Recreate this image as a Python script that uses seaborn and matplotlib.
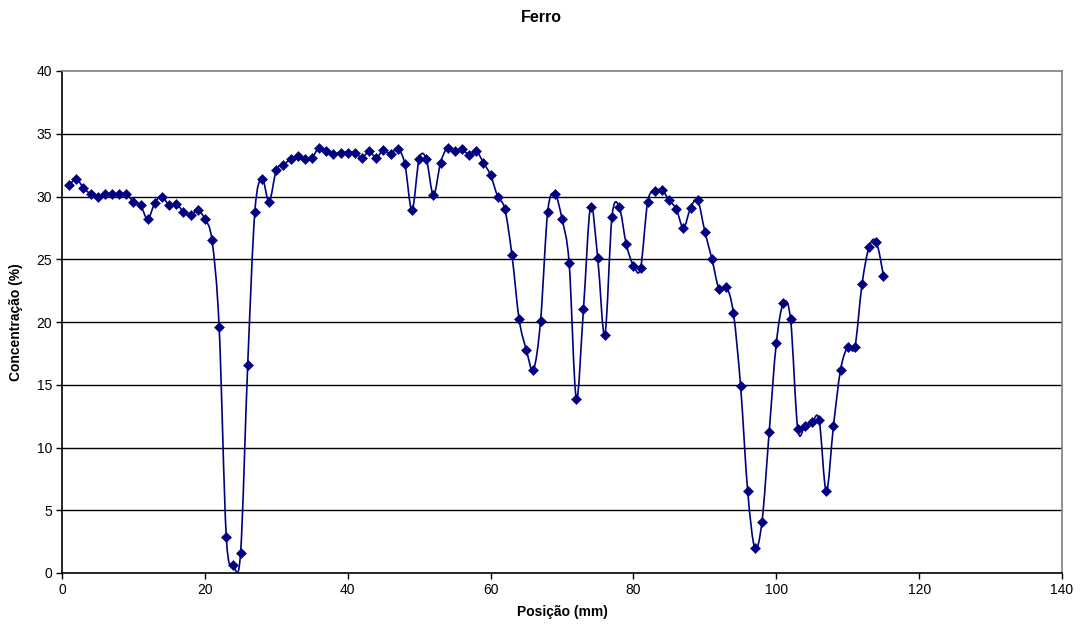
import numpy as np
import pandas as pd
import matplotlib
matplotlib.use("Agg")
import matplotlib.pyplot as plt
from matplotlib.path import Path
from matplotlib.patches import PathPatch
import seaborn as sns

# ---- data ----
posicao = list(range(1, 116))
concentracao = [
    30.9, 31.4, 30.7, 30.2, 30.0, 30.2, 30.2, 30.2, 30.2, 29.6,
    29.3, 28.2, 29.5, 30.0, 29.3, 29.4, 28.8, 28.5, 28.9, 28.2,
    26.5, 19.6, 2.9, 0.6, 1.6, 16.6, 28.8, 31.4, 29.6, 32.1,
    32.5, 33.0, 33.2, 33.0, 33.1, 33.9, 33.6, 33.4, 33.5, 33.5,
    33.5, 33.1, 33.6, 33.1, 33.7, 33.4, 33.8, 32.6, 28.9, 33.0,
    33.0, 30.1, 32.7, 33.9, 33.6, 33.8, 33.3, 33.6, 32.7, 31.7,
    30.0, 29.0, 25.3, 20.2, 17.8, 16.2, 20.1, 28.8, 30.2, 28.2,
    24.7, 13.9, 21.0, 29.2, 25.1, 19.0, 28.4, 29.2, 26.2, 24.5,
    24.3, 29.6, 30.4, 30.5, 29.7, 29.0, 27.5, 29.1, 29.7, 27.2,
    25.0, 22.6, 22.8, 20.7, 14.9, 6.5, 2.0, 4.1, 11.2, 18.3,
    21.5, 20.2, 11.5, 11.7, 12.0, 12.2, 6.5, 11.7, 16.2, 18.0,
    18.0, 23.0, 26.0, 26.4, 23.7,
]
x_ticks = [0, 20, 40, 60, 80, 100, 120, 140]
y_ticks = [0, 5, 10, 15, 20, 25, 30, 35, 40]
title = "Ferro"
x_label = "Posição (mm)"
y_label = "Concentração (%)"

df = pd.DataFrame({"pos": posicao, "conc": concentracao})

sns.set_theme(style="white")
plt.rcParams["font.family"] = ["Liberation Sans", "DejaVu Sans"]
plt.rcParams["text.color"] = "black"
plt.rcParams["axes.labelcolor"] = "black"
plt.rcParams["xtick.color"] = "black"
plt.rcParams["ytick.color"] = "black"

fig = plt.figure(figsize=(10.83, 6.35), dpi=100)
ax = fig.add_axes([62 / 1083, 62 / 635, 1000 / 1083, 502 / 635])

color = "#000080"

# smooth (Catmull-Rom as cubic Bezier) line, like Excel's smoothed line
xs = np.array(posicao, dtype=float)
ys = np.array(concentracao, dtype=float)
verts = [(xs[0], ys[0])]
codes = [Path.MOVETO]
n = len(xs)
t = 1.0 / 6.0
for i in range(n - 1):
    p0 = (xs[i - 1], ys[i - 1]) if i > 0 else (xs[i], ys[i])
    p1 = (xs[i], ys[i])
    p2 = (xs[i + 1], ys[i + 1])
    p3 = (xs[i + 2], ys[i + 2]) if i + 2 < n else (xs[i + 1], ys[i + 1])
    c1 = (p1[0] + (p2[0] - p0[0]) * t, p1[1] + (p2[1] - p0[1]) * t)
    c2 = (p2[0] - (p3[0] - p1[0]) * t, p2[1] - (p3[1] - p1[1]) * t)
    verts += [c1, c2, p2]
    codes += [Path.CURVE4] * 3
ax.add_patch(PathPatch(Path(verts, codes), facecolor="none", edgecolor=color,
                       lw=1.2, zorder=3))

sns.scatterplot(data=df, x="pos", y="conc", marker="D", s=26, color=color,
                edgecolor=color, linewidth=0.4, ax=ax, zorder=4, legend=False)

ax.set_xlim(0, 140)
ax.set_ylim(0, 40)
ax.set_xticks(x_ticks)
ax.set_yticks(y_ticks)
ax.tick_params(axis="both", labelsize=10, length=4, width=1, direction="out",
               color="black", labelcolor="black", pad=3, left=True, bottom=True)
for yv in y_ticks[1:-1]:
    ax.axhline(yv, color="black", lw=1.0, zorder=1)

ax.spines["left"].set_color("black")
ax.spines["bottom"].set_color("black")
ax.spines["top"].set_color("#808080")
ax.spines["right"].set_color("#808080")
for s in ax.spines.values():
    s.set_linewidth(1.2)

ax.set_xlabel(x_label, fontsize=10, fontweight="bold", labelpad=6, color="black")
ax.set_ylabel(y_label, fontsize=10, fontweight="bold", labelpad=10, color="black")
fig.text(0.5, 1 - 18 / 635, title, ha="center", va="center",
         fontsize=11.5, fontweight="bold", color="black")

fig.savefig("out.png", dpi=100)
